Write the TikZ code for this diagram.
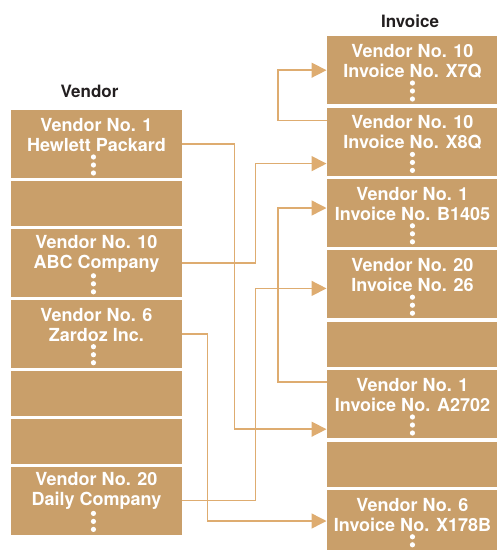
\documentclass[tikz,border=0pt]{standalone}
\usepackage{fontspec}
\setmainfont{TeX Gyre Heros}
\usetikzlibrary{arrows.meta, positioning, calc}
\definecolor{boxtan}{RGB}{201, 159, 106}
\definecolor{linktan}{RGB}{222, 172, 112}
\definecolor{titlegray}{RGB}{35, 31, 32}

\begin{document}
\begin{tikzpicture}[
  x=1pt, y=-1pt,
  every node/.style={font=\bfseries\fontsize{18}{20}\selectfont},
  cell/.style={fill=boxtan, minimum width=171.5pt, inner sep=0pt, anchor=north west},
  tall/.style={cell, minimum height=68pt},
  short/.style={cell, minimum height=45pt},
  entry/.style={text=white, align=center, inner sep=0pt},
  title/.style={text=titlegray, font=\bfseries\fontsize{17}{20}\selectfont},
  link/.style={-{Triangle[length=15pt, width=15pt]}, line width=1.5pt, color=linktan}
]
  \useasboundingbox (0,0) rectangle (497,550);

  % Vendor file
  \node[title] (vtitle) at (89.5,91) {Vendor};
  \node[tall] (v1) at (10.5,110) {};
  \node[short, below=2.5pt of v1] (v2) {};
  \node[tall, below=2.5pt of v2] (v3) {};
  \node[tall, below=2.5pt of v3] (v4) {};
  \node[short, below=2.5pt of v4] (v5) {};
  \node[short, below=2.5pt of v5] (v6) {};
  \node[tall, below=2.5pt of v6] (v7) {};

  \node[entry] (v1t) at ([yshift=-25pt]v1.north) {Vendor No. 1\\Hewlett Packard};
  \node[entry] (v3t) at ([yshift=-25pt]v3.north) {Vendor No. 10\\ABC Company};
  \node[entry] (v4t) at ([yshift=-25pt]v4.north) {Vendor No. 6\\Zardoz Inc.};
  \node[entry] (v7t) at ([yshift=-25pt]v7.north) {Vendor No. 20\\Daily Company};

  % Invoice file
  \node[title] (ititle) at (410,21) {Invoice};
  \node[tall] (i1) at (326.5,36) {};
  \node[tall, below=3pt of i1] (i2) {};
  \node[tall, below=3pt of i2] (i3) {};
  \node[tall, below=3pt of i3] (i4) {};
  \node[short, below=3pt of i4] (i5) {};
  \node[tall, below=3pt of i5] (i6) {};
  \node[short, below=3pt of i6] (i7) {};
  \node[tall, below=3pt of i7] (i8) {};

  \node[entry] (i1t) at ([yshift=-25pt]i1.north) {Vendor No. 10\\Invoice No. X7Q};
  \node[entry] (i2t) at ([yshift=-25pt]i2.north) {Vendor No. 10\\Invoice No. X8Q};
  \node[entry] (i3t) at ([yshift=-25pt]i3.north) {Vendor No. 1\\Invoice No. B1405};
  \node[entry] (i4t) at ([yshift=-25pt]i4.north) {Vendor No. 20\\Invoice No. 26};
  \node[entry] (i6t) at ([yshift=-25pt]i6.north) {Vendor No. 1\\Invoice No. A2702};
  \node[entry] (i8t) at ([yshift=-25pt]i8.north) {Vendor No. 6\\Invoice No. X178B};

  % continuation dots
  \foreach \b in {v1,v3,v4,v7}
    \foreach \d in {47,55,63}
      \fill[white] ($(\b.north)+(-3,\d)$) circle (2.6pt);
  \foreach \b in {i1,i2,i3,i4,i6,i8}
    \foreach \d in {47,55,63}
      \fill[white] ($(\b.north)+(0,\d)$) circle (2.6pt);

  % Pointers
  \draw[link] (v1.east) -- ++(52,0) |- ([yshift=-25pt]i6.west);
  \draw[link] (v3.east) -- ++(73,0) |- ([yshift=-22pt]i2.west);
  \draw[link] (v4.east) -- ++(25,0) |- ([yshift=3pt]i8.west);
  \draw[link] (v7.east) -- ++(73,0) |- ([yshift=-4pt]i4.west);
  \draw[link] ([yshift=21pt]i2.west) -- ++(-48.5,0) |- (i1.west);
  \draw[link] ([yshift=22pt]i6.west) -- ++(-48.5,0) |- ([yshift=5pt]i3.west);

\end{tikzpicture}
\end{document}
